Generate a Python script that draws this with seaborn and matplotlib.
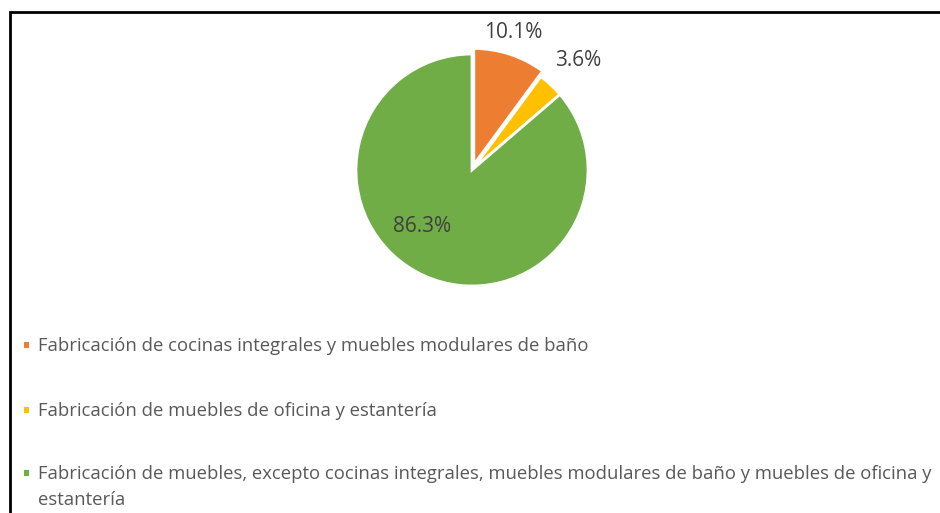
import matplotlib
matplotlib.use("Agg")
import matplotlib.pyplot as plt
from matplotlib.patches import Rectangle
import seaborn as sns

categories = [
    "Fabricación de cocinas integrales y muebles modulares de baño",
    "Fabricación de muebles de oficina y estantería",
    "Fabricación de muebles, excepto cocinas integrales, muebles modulares de baño y muebles de oficina y\nestantería",
]
shares = [10.1, 3.6, 86.3]
pct_labels = ["10.1%", "3.6%", "86.3%"]

sns.set_style("white")
plt.rcParams["font.family"] = ["Open Sans", "DejaVu Sans"]
colors = sns.color_palette(["#ED7D31", "#FFC000", "#70AD47"])

W, H = 940, 513
fig = plt.figure(figsize=(W / 100, H / 100), dpi=100)

# pie: centre (472,170) px, radius 116 px, axes spans +-1.3 units
cx, cy, R = 472, 170, 116
half = 1.3 * R
ax = fig.add_axes([(cx - half) / W, (H - cy - half) / H, 2 * half / W, 2 * half / H])
wedges, _ = ax.pie(shares, colors=colors, startangle=90, counterclock=False,
                   explode=[0.05, 0.0, 0.0],
                   wedgeprops=dict(edgecolor="white", linewidth=2))
ax.set_xlim(-1.3, 1.3)
ax.set_ylim(-1.3, 1.3)
ax.set_aspect("equal")
ax.axis("off")

# percentage labels (pixel spots)
label_px = [(513, 33), (578, 60), (422, 227)]
for (px, py), t in zip(label_px, pct_labels):
    fig.text(px / W, 1 - py / H, t, ha="center", va="center",
             fontsize=15, color="#404040")

# legend drawn by hand, Excel style
rows_y = [345, 410, 473]
for (c, lab, y) in zip(colors, categories, rows_y):
    fig.add_artist(Rectangle((24 / W, 1 - (y + 3) / H), 5 / W, 6 / H,
                             transform=fig.transFigure, color=c, lw=0))
    fig.text(38 / W, 1 - (y - 8) / H, lab, ha="left", va="top",
             fontsize=13.3, color="#595959", linespacing=1.6)

# frame of the screenshot crop
fig.add_artist(Rectangle((9.5 / W, -0.1), 1.2, 1.1 - 12.5 / H,
                         transform=fig.transFigure, fill=False,
                         edgecolor="black", lw=2))

fig.savefig("out.png", dpi=100)
